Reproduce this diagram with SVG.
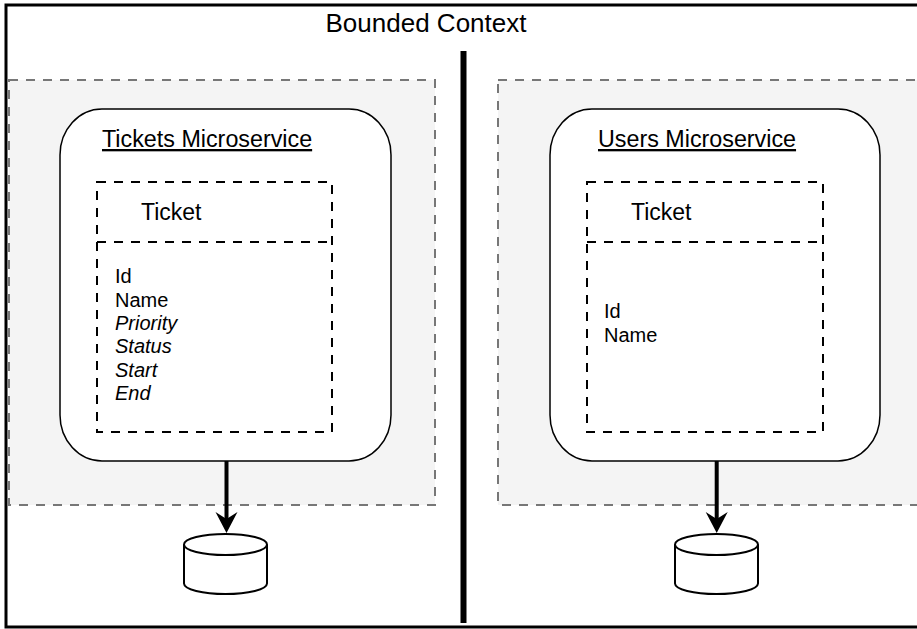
<svg xmlns="http://www.w3.org/2000/svg" width="917" height="629" viewBox="0 0 917 629">
  <style>
    text { font-family: "Liberation Sans", Arial, sans-serif; fill: #000; }
    .context { fill: #f4f4f4; stroke: #777777; stroke-width: 2; stroke-dasharray: 9 8; }
    .service { fill: #ffffff; stroke: #000; stroke-width: 1.5; }
    .entity { fill: none; stroke: #000; stroke-width: 2; stroke-dasharray: 9 8; }
    .db { fill: #ffffff; stroke: #000; stroke-width: 2; }
    .title { font-size: 23.3px; text-decoration: underline; }
    .ename { font-size: 23px; }
    .attr { font-size: 20px; }
    .it { font-style: italic; }
    .conn { stroke: #000; stroke-width: 4; fill: none; }
  </style>
  <defs>
    <marker id="arrow" viewBox="0 0 22 24" refX="10" refY="12" markerWidth="22" markerHeight="24" markerUnits="userSpaceOnUse" orient="auto">
      <path d="M21 12 L0 1 L7 12 L0 23 Z" fill="#000"/>
    </marker>
  </defs>
  <rect width="917" height="629" fill="#ffffff"/>

  <g id="frame">
    <rect x="6" y="5" width="930" height="622" fill="none" stroke="#000" stroke-width="3"/>
    <text x="426" y="32" font-size="26" text-anchor="middle">Bounded Context</text>
    <line x1="463.5" y1="51" x2="463.5" y2="623" stroke="#000" stroke-width="6"/>
  </g>

  <g id="tickets-context">
    <rect class="context" x="9" y="80" width="426" height="425"/>
  </g>
  <g id="users-context">
    <rect class="context" x="498" y="80" width="440" height="425"/>
  </g>

  <g id="tickets-microservice">
    <rect class="service" x="60" y="109" width="331" height="352" rx="42" ry="46"/>
    <text class="title" x="102" y="147">Tickets Microservice</text>
  </g>
  <g id="tickets-entity">
    <rect class="entity" x="97" y="182" width="235" height="250"/>
    <line class="entity" x1="97" y1="242" x2="332" y2="242"/>
    <text class="ename" x="141" y="220">Ticket</text>
    <text class="attr" x="115" y="283">Id</text>
    <text class="attr" x="115" y="306.5">Name</text>
    <text class="attr it" x="115" y="330">Priority</text>
    <text class="attr it" x="115" y="353">Status</text>
    <text class="attr it" x="115" y="376.5">Start</text>
    <text class="attr it" x="115" y="400">End</text>
  </g>

  <g id="users-microservice">
    <rect class="service" x="550" y="109" width="330" height="352" rx="42" ry="46"/>
    <text class="title" x="598" y="147">Users Microservice</text>
  </g>
  <g id="users-entity">
    <rect class="entity" x="587" y="182" width="236" height="250"/>
    <line class="entity" x1="587" y1="242" x2="823" y2="242"/>
    <text class="ename" x="631" y="220">Ticket</text>
    <text class="attr" x="604" y="318">Id</text>
    <text class="attr" x="604" y="342">Name</text>
  </g>

  <g id="tickets-db">
    <path class="db" d="M184 544.5 L184 583.5 A41.5 10.5 0 0 0 267 583.5 L267 544.5"/>
    <ellipse class="db" cx="225.5" cy="544.5" rx="41.5" ry="10.5"/>
  </g>
  <g id="users-db">
    <path class="db" d="M675 544.5 L675 583.5 A41.5 10.5 0 0 0 758 583.5 L758 544.5"/>
    <ellipse class="db" cx="716.5" cy="544.5" rx="41.5" ry="10.5"/>
  </g>

  <g id="connectors">
    <line class="conn" x1="226.5" y1="461" x2="226.5" y2="522" marker-end="url(#arrow)"/>
    <line class="conn" x1="716.7" y1="461" x2="716.7" y2="522" marker-end="url(#arrow)"/>
  </g>
</svg>
